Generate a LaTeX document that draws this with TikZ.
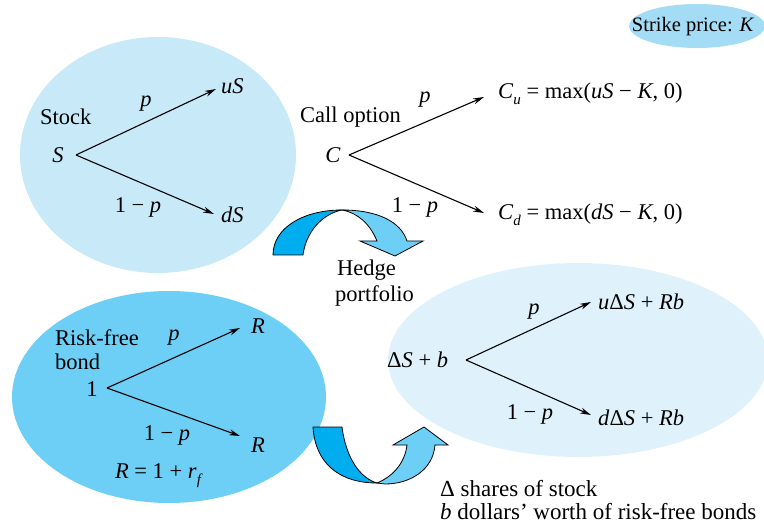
\documentclass[tikz,border=0pt]{standalone}
\usepackage{fontspec}
\setmainfont{Liberation Serif}
\usetikzlibrary{arrows.meta}
\definecolor{ellA}{HTML}{C8E9F8}
\definecolor{ellB}{HTML}{6DCFF6}
\definecolor{ellC}{HTML}{DFF2FB}
\definecolor{ellK}{HTML}{A4DCF5}
\definecolor{arrDark}{HTML}{00AEEF}
\definecolor{arrLight}{HTML}{6DCFF6}
\newcommand\mysub[1]{\raisebox{-0.28em}{\fontsize{15}{15}\selectfont\itshape #1}}
\newcommand\mi[1]{\textit{#1}}
\begin{document}
\begin{tikzpicture}[x=1pt,y=-1pt,
  font=\fontsize{22.5}{26}\selectfont,
  txt/.style={inner sep=0pt},
  arr/.style={line width=1.1pt,-{Stealth[length=11pt,width=6pt]}},
  bigarrow/.style={draw=black,line width=0.8pt,line join=miter}]
\useasboundingbox (0,0) rectangle (764,524);

% ellipses
\fill[ellA] (158,155) ellipse [x radius=138, y radius=118];
\fill[ellB] (169,397) ellipse [x radius=157, y radius=106];
\fill[ellC] (578,360) ellipse [x radius=190, y radius=97];
\fill[ellK] (697,26) ellipse [x radius=68, y radius=22];

% strike price
\node[txt,font=\fontsize{20.5}{22}\selectfont] (strike) at (693,27) {Strike price: \mi{K}};

% Stock tree
\node[txt,anchor=west] (stock) at (40,117) {Stock};
\node[txt] (S) at (58,155) {\mi{S}};
\coordinate (s0) at (76,155);
\coordinate (s1) at (216,89);
\coordinate (s2) at (214,214);
\draw[arr] (s0) -- (s1);
\draw[arr] (s0) -- (s2);
\node[txt,anchor=west] (uS) at (221,86) {\mi{uS}};
\node[txt,anchor=west] (dS) at (221,215) {\mi{dS}};
\node[txt] (sp) at (146,104) {\mi{p}};
\node[txt] (sq) at (138,207) {1 − \mi{p}};

% Call option tree
\node[txt,anchor=west] (call) at (300,117) {Call option};
\node[txt] (C) at (333,155) {\mi{C}};
\coordinate (c0) at (349,155);
\coordinate (c1) at (484,97);
\coordinate (c2) at (484,213);
\draw[arr] (c0) -- (c1);
\draw[arr] (c0) -- (c2);
\node[txt] (cp) at (425,100) {\mi{p}};
\node[txt] (cq) at (415,207) {1 − \mi{p}};
\node[txt,anchor=west] (Cu) at (498,94) {\mi{C}\mysub{u} = max(\mi{uS} − \mi{K}, 0)};
\node[txt,anchor=west] (Cd) at (498,215) {\mi{C}\mysub{d} = max(\mi{dS} − \mi{K}, 0)};

% Hedge curved arrow
\fill[arrLight,bigarrow] (342,210) .. controls (378,210) and (401,222) .. (407,241)
  -- (423,241) -- (395,256) -- (360,241) -- (377,241)
  .. controls (370,224) and (358,213) .. (342,210) -- cycle;
\fill[arrDark,bigarrow] (273,255) -- (303,255) .. controls (306,232) and (322,214) .. (342,210)
  .. controls (303,210) and (273,228) .. (273,255) -- cycle;
\node[txt,anchor=west] (hedge) at (337,270) {Hedge};
\node[txt,anchor=west] (portf) at (335,296) {portfolio};

% Bond tree
\node[txt,anchor=west] (risk) at (55,338) {Risk-free};
\node[txt,anchor=west] (bond) at (55,362) {bond};
\node[txt] (one) at (92,389) {1};
\coordinate (b0) at (107,388);
\coordinate (b1) at (240,328);
\coordinate (b2) at (240,436);
\draw[arr] (b0) -- (b1);
\draw[arr] (b0) -- (b2);
\node[txt] (R1) at (258,326) {\mi{R}};
\node[txt] (R2) at (258,445) {\mi{R}};
\node[txt] (bp) at (174,338) {\mi{p}};
\node[txt] (bq) at (167,435) {1 − \mi{p}};
\node[txt] (Rdef) at (158,476) {\mi{R} = 1 + \mi{r}\mysub{f}};

% bottom curved arrow
\fill[arrLight,bigarrow] (377,483) .. controls (394,476) and (405,462) .. (407,445)
  -- (393,445) -- (424,427) -- (448,445) -- (435,445)
  .. controls (433,470) and (410,484) .. (385,484) -- cycle;
\fill[arrDark,bigarrow] (313,427) -- (342,427) .. controls (346,458) and (360,478) .. (377,483)
  .. controls (338,483) and (315,462) .. (313,427) -- cycle;

% Portfolio tree
\node[txt,anchor=west] (DSb) at (387,360) {Δ\mi{S} + \mi{b}};
\coordinate (p0) at (466,360);
\coordinate (p1) at (591,302);
\coordinate (p2) at (591,415);
\draw[arr] (p0) -- (p1);
\draw[arr] (p0) -- (p2);
\node[txt] (pp) at (534,312) {\mi{p}};
\node[txt] (pq) at (530,414) {1 − \mi{p}};
\node[txt,anchor=west] (up) at (598,302) {\mi{u}Δ\mi{S} + \mi{Rb}};
\node[txt,anchor=west] (dn) at (598,418) {\mi{d}Δ\mi{S} + \mi{Rb}};

% bottom notes
\node[txt,anchor=west,font=\fontsize{23}{26}\selectfont] (n1) at (440,489) {Δ shares of stock};
\node[txt,anchor=west,font=\fontsize{23}{26}\selectfont] (n2) at (440,512) {\mi{b} dollars’ worth of risk-free bonds};
\end{tikzpicture}
\end{document}
